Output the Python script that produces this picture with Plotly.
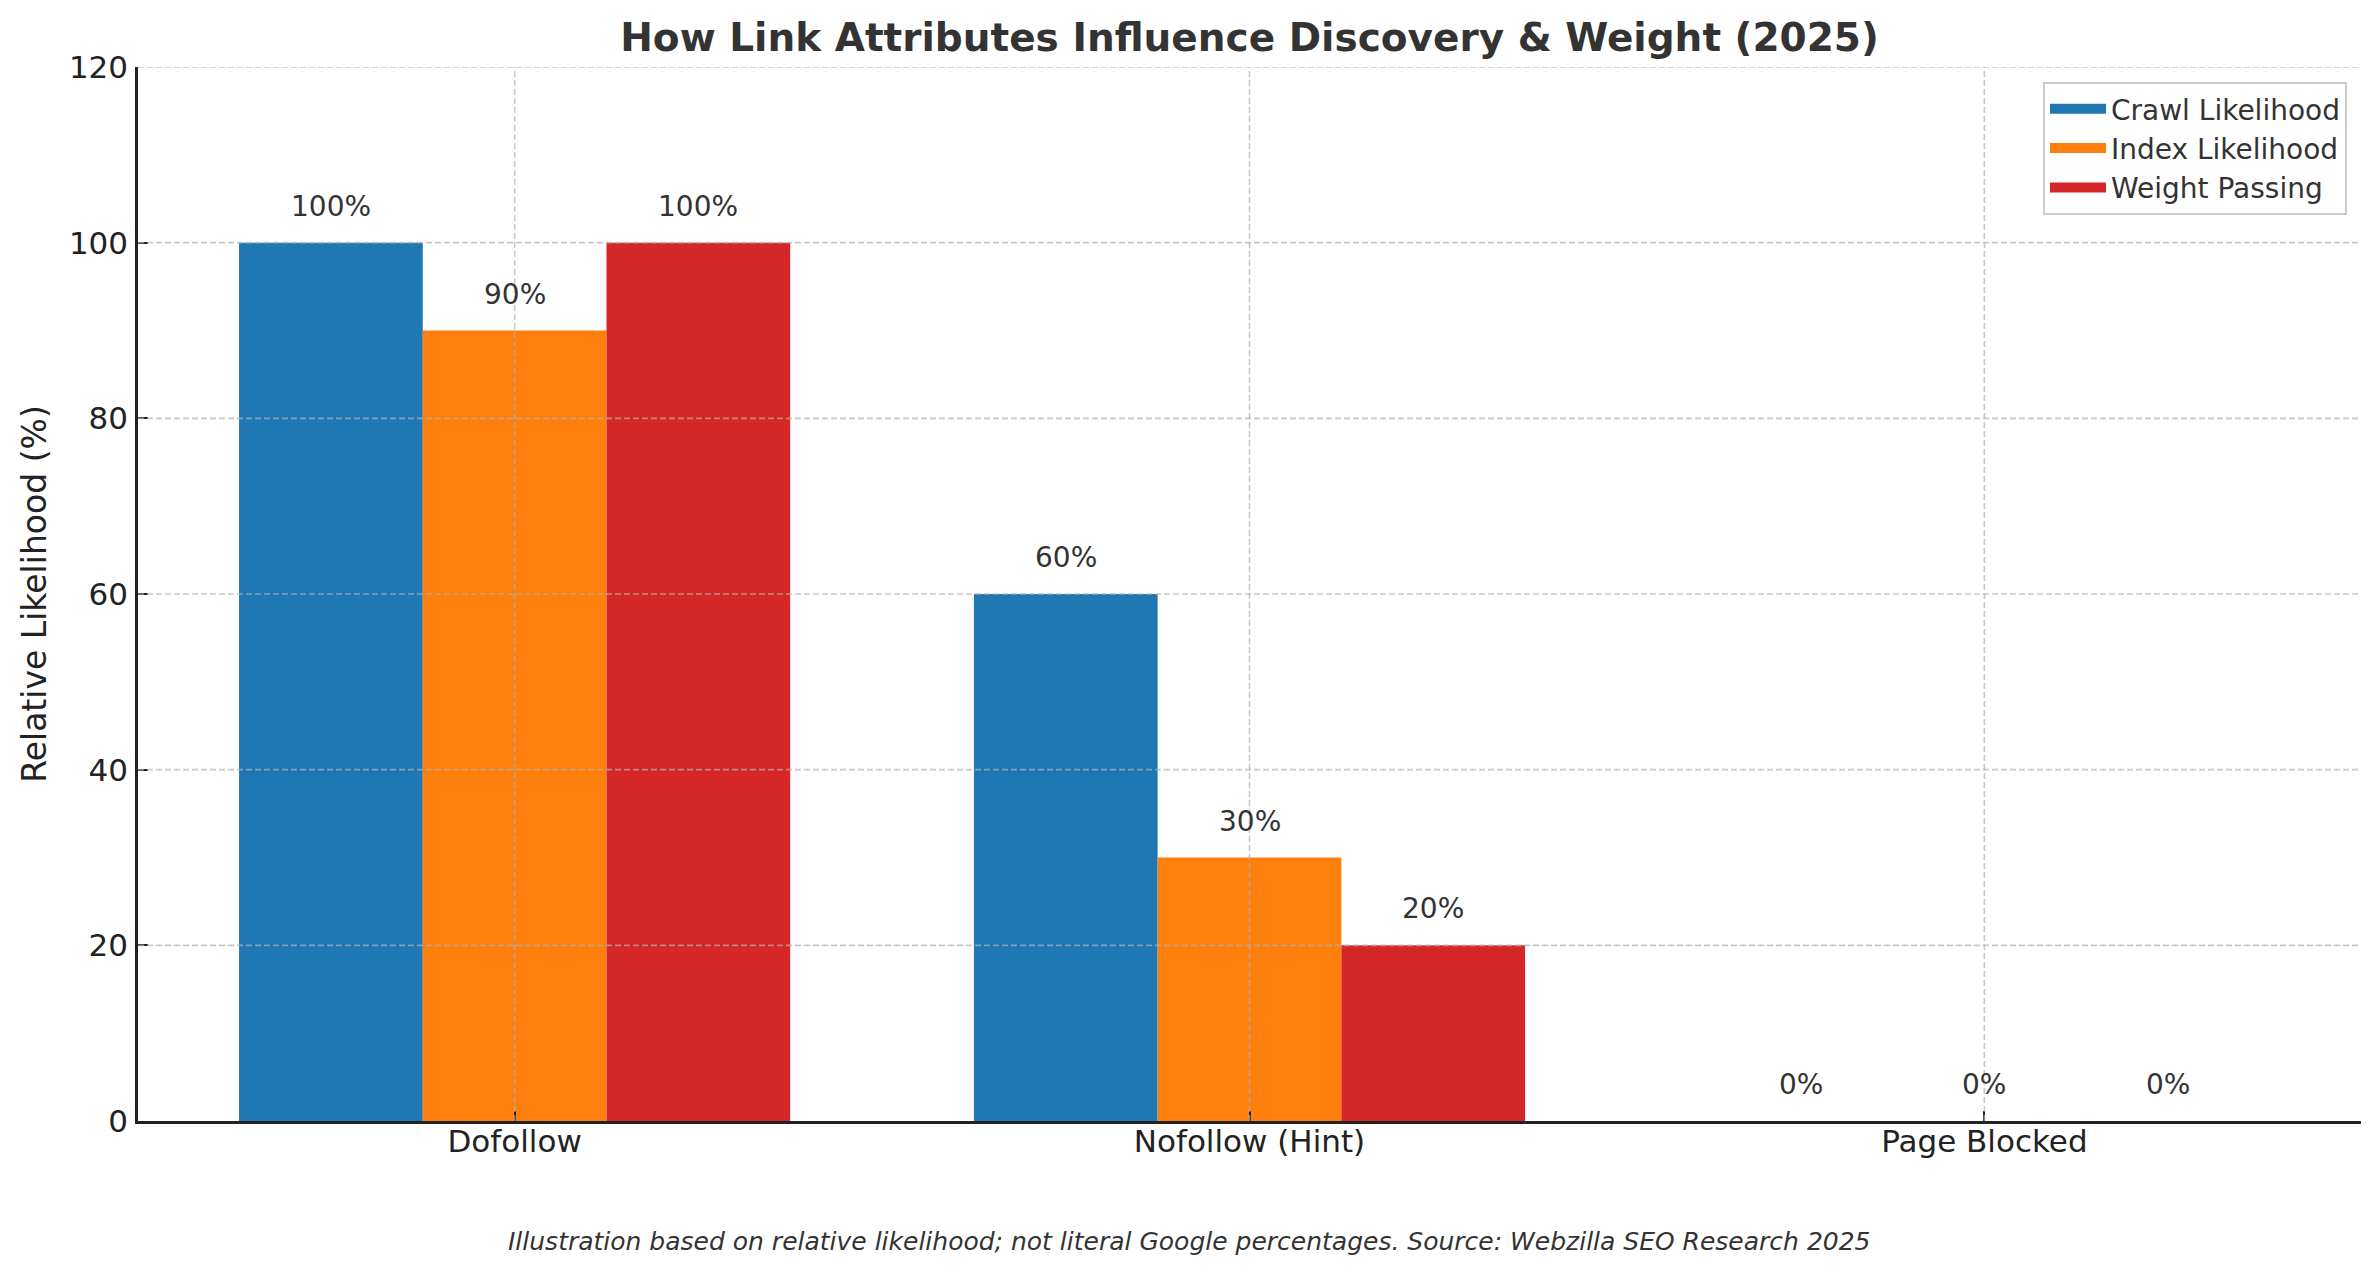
"""Link attributes vs crawl / index / weight - grouped bar chart"""
import plotly.graph_objects as go

# data
categories = ["Dofollow", "Nofollow (Hint)", "Page Blocked"]
series_names = ["Crawl Likelihood", "Index Likelihood", "Weight Passing"]
crawl = [100, 60, 0]
index = [90, 30, 0]
weight = [100, 20, 0]
y_ticks = [0, 20, 40, 60, 80, 100, 120]

colors = ["#1f77b4", "#ff7f0e", "#d62728"]
font = "DejaVu Sans"
bar_w = 0.25

# page body has an 8px margin, so the figure is 8px smaller than the window
W, H = 2371, 1267

fig = go.Figure()
x_pos = list(range(len(categories)))
for name, vals, col in zip(series_names, [crawl, index, weight], colors):
    fig.add_trace(go.Bar(x=x_pos, y=vals, name=name, marker_color=col,
                         marker_line_width=0, showlegend=False))
    # wide legend patch like matplotlib's
    fig.add_trace(go.Scatter(x=[None], y=[None], mode="lines", name=name,
                             line=dict(color=col, width=20)))

# value labels above each bar
for j, vals in enumerate([crawl, index, weight]):
    for i, v in enumerate(vals):
        fig.add_annotation(x=i + (j - 1) * bar_w, y=v, text=f"{v}%",
                           showarrow=False, yanchor="bottom", yshift=18,
                           font=dict(family=font, size=28, color="#333333"))

# dashed grid drawn on top of the bars (like matplotlib)
grid = dict(color="rgba(176,176,176,0.7)", width=1.6, dash="6px,3px")
for t in y_ticks[1:]:
    fig.add_shape(type="line", xref="paper", x0=0, x1=1, y0=t, y1=t,
                  line=grid, layer="above")
for i in x_pos:
    fig.add_shape(type="line", yref="paper", y0=0, y1=1, x0=i, x1=i,
                  line=grid, layer="above")

# footnote
fig.add_annotation(xref="paper", yref="paper", x=0.473, y=-0.114,
                   text="<i>Illustration based on relative likelihood; not literal Google percentages. Source: Webzilla SEO Research 2025</i>",
                   showarrow=False, xanchor="center", yanchor="middle",
                   font=dict(family=font, size=25, color="#333333"))

axis_common = dict(showline=True, linecolor="#222222", linewidth=2.5,
                   ticks="inside", ticklen=10, tickwidth=2, tickcolor="#222222",
                   showgrid=False, zeroline=False,
                   tickfont=dict(family=font, size=31, color="#222222"))

fig.update_layout(
    width=W, height=H,
    margin=dict(l=130, r=18, t=59, b=154),
    paper_bgcolor="white", plot_bgcolor="white",
    barmode="group", bargap=0.25, bargroupgap=0,
    title=dict(text="How Link Attributes Influence Discovery & Weight (2025)",
               x=0.5, xref="paper", xanchor="center",
               y=1 - 29 / H, yref="container", yanchor="middle",
               font=dict(family=font, size=39, color="#333333", weight="bold")),
    xaxis=dict(range=[-0.5125, 2.5125], tickvals=x_pos, ticktext=categories,
               ticklabelstandoff=-9, **axis_common),
    yaxis=dict(range=[0, 120], tickvals=y_ticks, ticklabelstandoff=1,
               title=dict(text="Relative Likelihood (%)", standoff=13,
                          font=dict(family=font, size=33, color="#222222")),
               **axis_common),
    legend=dict(x=0.9937, y=0.9858, xanchor="right", yanchor="top",
                bgcolor="white", bordercolor="#cccccc", borderwidth=2,
                itemwidth=56,
                font=dict(family=font, size=28, color="#333333")),
)

fig.write_html("out.html")
